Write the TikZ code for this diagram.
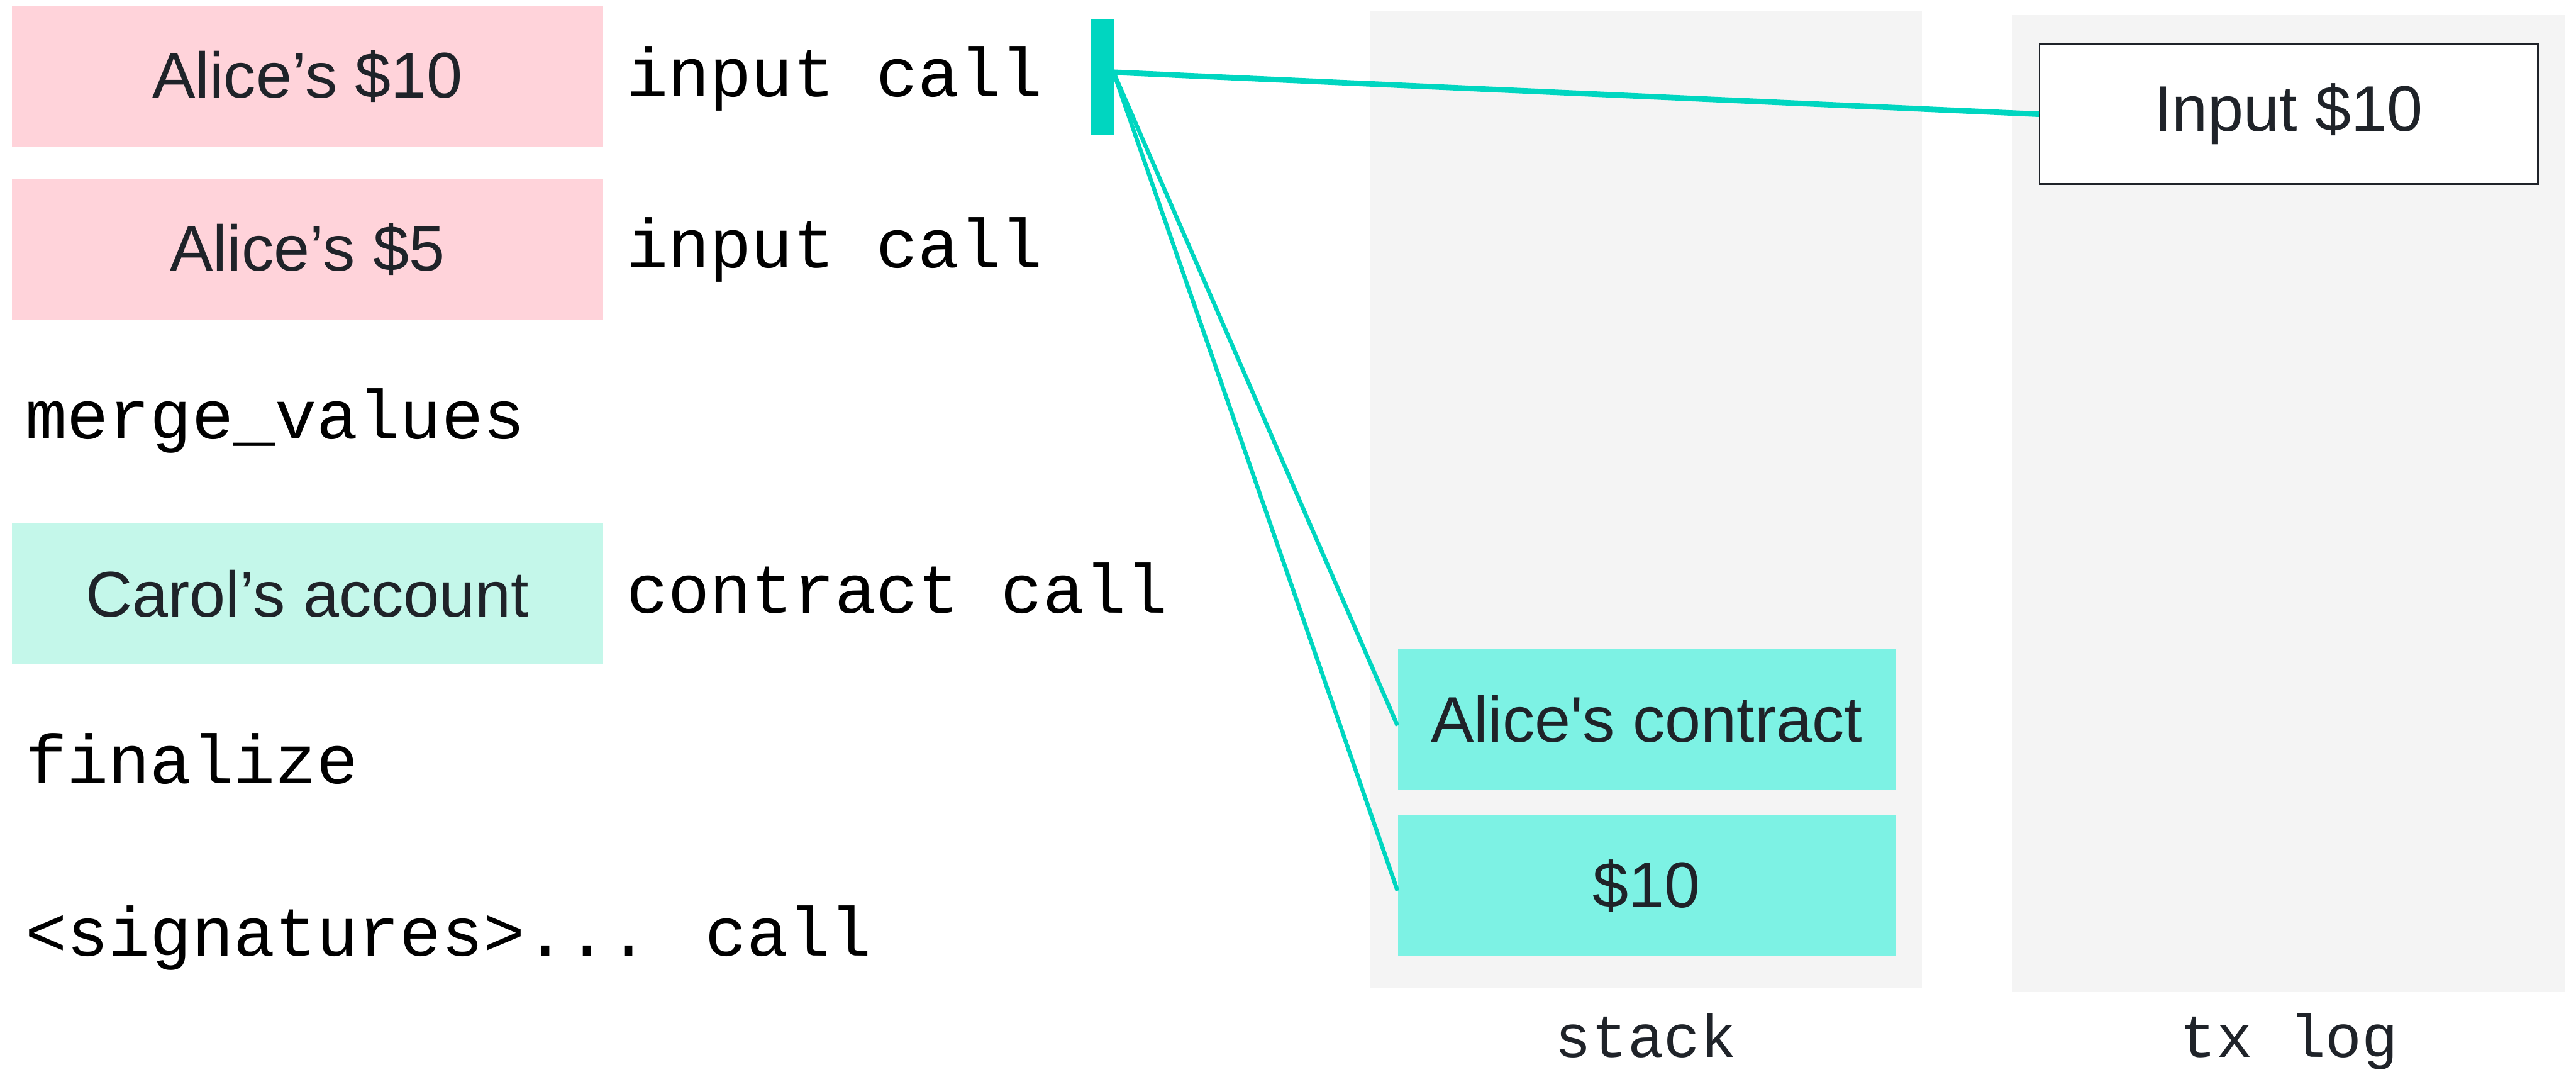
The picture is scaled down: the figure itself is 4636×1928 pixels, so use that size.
\documentclass[tikz,border=0pt]{standalone}
\usepackage{fontspec}
\setmainfont{Liberation Sans}
\newfontfamily\plainsans{Liberation Sans}[Ligatures=TeXOff]
\newfontfamily\codefont{Liberation Mono}
\definecolor{inkdark}{HTML}{1F2329}
\definecolor{pinkfill}{HTML}{FFD3DA}
\definecolor{mintfill}{HTML}{C4F7EA}
\definecolor{aquafill}{HTML}{7DF2E4}
\definecolor{panelgrey}{HTML}{F4F4F4}
\definecolor{linkteal}{HTML}{00D6C0}
\begin{document}
\begin{tikzpicture}[x=0.01cm,y=-0.01cm,
  valbox/.style={rectangle, inner sep=0pt, draw=none, minimum width=10.63cm, minimum height=2.53cm,
    text=inkdark, font=\fontsize{33pt}{38pt}\selectfont},
  stackbox/.style={rectangle, inner sep=0pt, draw=none, fill=aquafill, minimum width=8.95cm, minimum height=2.53cm,
    text=inkdark, font=\plainsans\fontsize{33pt}{38pt}\selectfont},
  codetext/.style={anchor=base west, inner sep=0pt, text=black, font=\codefont\fontsize{35.5pt}{40pt}\selectfont},
  panellabel/.style={anchor=base, inner sep=0pt, text=inkdark, font=\codefont\fontsize{31pt}{36pt}\selectfont},
  panel/.style={fill=panelgrey, draw=none},
  thicklink/.style={draw=linkteal, line width=2.85pt},
  thinlink/.style={draw=linkteal, line width=2.1pt}
]
\useasboundingbox (0,0) rectangle (4636,1928);

% grey panels: stack and transaction log
\fill[panel] (2465,19) rectangle (3459,1777);
\fill[panel] (3622,27) rectangle (4617,1785);

% script rows on the left
\node[valbox, fill=pinkfill] (alice10) at (553.5,137.5) {Alice’s \$10};
\node[valbox, fill=pinkfill] (alice5) at (553.5,448) {Alice’s \$5};
\node[valbox, fill=mintfill] (carol) at (553.5,1068.5) {Carol’s account};

\node[codetext] (call1) at (1127,174) {input call};
\node[codetext] (call2) at (1127,482) {input call};
\node[codetext] (merge) at (45,790) {merge\_values};
\node[codetext] (ccall) at (1127,1103) {contract call};
\node[codetext] (final) at (45,1410) {finalize};
\node[codetext] (sigs) at (45,1720) {<signatures>... call};

% cursor bar marking the current instruction
\node[rectangle, fill=linkteal, draw=none, inner sep=0pt, minimum width=0.42cm, minimum height=2.09cm] (cursor) at (1985,138.5) {};
\coordinate (cursorout) at (2004,130);

% stack items
\node[stackbox] (acontract) at (2963.5,1293.5) {Alice's contract};
\node[stackbox] (ten) at (2963.5,1593.5) {\$10};

% transaction log entry
\node[rectangle, fill=white, draw=inkdark, line width=0.8pt, inner sep=0pt, minimum width=8.96cm, minimum height=2.51cm,
  text=inkdark, font=\fontsize{33pt}{38pt}\selectfont] (login) at (4119,205.5) {Input \$10};

% panel captions
\node[panellabel] (stacklbl) at (2962,1902) {stack};
\node[panellabel] (loglbl) at (4120,1902) {tx log};

% links from the cursor
\draw[thicklink] (cursorout) -- (login.west);
\draw[thinlink] (cursorout) -- ([yshift=-0.12cm]acontract.west);
\draw[thinlink] (cursorout) -- ([yshift=-0.09cm]ten.west);
\end{tikzpicture}
\end{document}
